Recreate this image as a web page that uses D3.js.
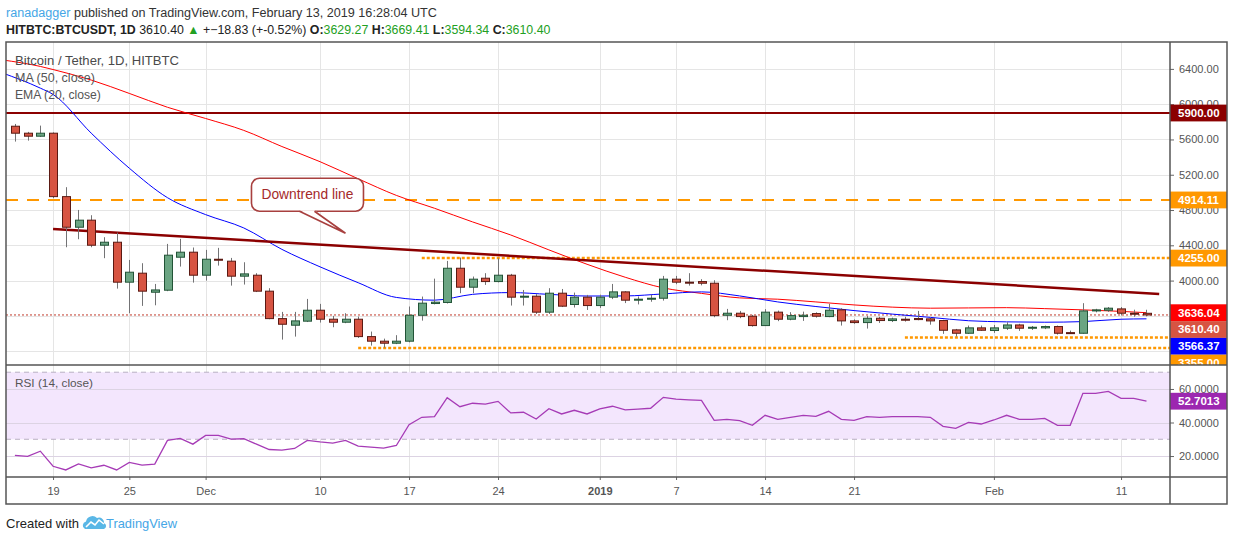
<!DOCTYPE html>
<html>
<head>
<meta charset="utf-8">
<script src="https://cdn.jsdelivr.net/npm/d3@7"></script>
<style>
body { margin: 0; background: #fff; }
text { font-family: "Liberation Sans", Arial, sans-serif; }
</style>
</head>
<body>
<svg id="chart" width="1234" height="541"></svg>
<script>
// daily candles, 2018-11-16 .. 2019-02-13
let firstDay = '2018-11-16';
let lastDay = '2019-02-13';
let opens = [5750,5671,5637,5671,4952,4605,4685,4401,4435,3982,4084,3868,3891,4265,4322,
  4061,4242,4220,4050,4061,3880,3569,3494,3540,3664,3562,3528,3562,3365,3313,3290,3313,3607,3740,3752,4140,3925,4027,3989,4061,3812,3823,3642,3857,3729,3812,
  3717,3812,3872,3778,3789,3800,4016,3982,3989,3970,3607,3630,3596,3490,3642,3562,3592,3626,3592,3668,3543,3524,3573,3547,3562,3570,3566,3547,3441,3403,3464,
  3434,3460,3497,3460,3464,3479,3410,3403,3656,3664,3679,3630,3629.27];
let highs = [5776,5686,5757,5680,5059,4801,4741,4492,4544,4234,4197,3962,4416,4473,4375,
  4348,4371,4257,4208,4084,3914,3645,3645,3792,3736,3600,3630,3592,3422,3342,3381,3706,3819,4022,4223,4261,4046,4084,4254,4076,3894,3846,3914,3905,3864,3838,
  3840,3962,3880,3820,3840,4053,4053,4084,4016,4004,3679,3656,3611,3676,3660,3642,3648,3640,3736,3687,3560,3600,3590,3580,3590,3656,3580,3555,3452,3490,3490,
  3497,3528,3510,3485,3490,3490,3433,3744,3680,3700,3700,3670,3669.41];
let lows = [5576,5587,5630,4934,4378,4469,4378,4254,3909,3630,3713,3720,3880,4159,3977,
  4000,4170,3943,3955,3870,3562,3331,3365,3530,3524,3471,3517,3350,3263,3240,3280,3300,3546,3730,3740,3857,3857,3951,3980,3717,3717,3622,3622,3700,3695,3667,
  3690,3790,3745,3730,3760,3773,3959,3943,3946,3585,3551,3574,3478,3485,3540,3550,3543,3580,3585,3490,3510,3456,3520,3530,3535,3550,3500,3396,3365,3395,3430,
  3407,3440,3430,3440,3450,3388,3395,3398,3640,3645,3605,3590,3594.34];
let closes = [5671,5637,5671,4952,4605,4685,4401,4435,3982,4095,3880,3894,4288,4322,4061,
  4242,4231,4050,4076,3880,3569,3505,3543,3664,3562,3528,3562,3365,3313,3290,3313,3607,3744,3755,4140,3925,4016,3989,4061,3812,3823,3642,3857,3710,3812,3717,
  3812,3872,3778,3789,3800,4016,3982,3978,3970,3603,3630,3592,3490,3642,3562,3603,3607,3596,3664,3543,3524,3573,3547,3566,3555,3558,3543,3437,3403,3464,3437,
  3464,3497,3460,3471,3479,3403,3403,3656,3668,3687,3630,3629.23,3610.40];

// RSI(14) per candle
let rsi14 = [20.4,19.8,22.9,13.9,11.7,15.3,12.9,14.5,11.7,16.2,14.6,15.2,29.3,30.5,27.1,
  32.3,32.3,30.1,30.3,27.1,23.9,23.5,24.5,29.3,28.4,27.7,29.3,25.9,25.3,24.7,26.3,38.7,43.1,43.5,54.8,49.4,51.5,51.0,52.6,45.7,46.1,42.1,48.2,45.1,47.3,45.1,
  48.1,49.7,47.5,48.0,48.5,55.0,53.9,53.5,53.2,41.3,41.9,41.1,38.3,44.3,41.9,43.1,44.3,43.7,46.7,41.9,41.3,43.5,43.1,43.5,43.5,43.5,43.1,37.7,36.5,40.1,39.1,
  41.5,44.3,41.9,41.9,42.5,38.3,38.3,57.4,57.4,58.6,54.4,54.4,52.7013];

// moving averages
let lineDates = ['2018-11-15','2018-11-18','2018-11-19','2018-11-22','2018-11-25','2018-11-28','2018-12-01','2018-12-04',
  '2018-12-07','2018-12-10','2018-12-13','2018-12-16','2018-12-19','2018-12-22','2018-12-25','2018-12-28','2018-12-31',
  '2019-01-03','2019-01-06','2019-01-09','2019-01-12','2019-01-15','2019-01-18','2019-01-21','2019-01-24','2019-01-27',
  '2019-01-30','2019-02-02','2019-02-05','2019-02-08','2019-02-11','2019-02-13'];
let ma50 = [6502,6428,6393,6274,6122,5965,5838,5703,5520,5348,5154,4966,4820,4665,4517,4348,4185,
  4038,3917,3855,3804,3789,3758,3724,3699,3687,3690,3693,3682,3668,3651,3636.04];
let ema20 = [6355,6182,6111,5672,5274,4940,4748,4597,4354,4156,3976,3809,3778,3844,3864,3844,3825,
  3826,3849,3872,3826,3758,3706,3660,3620,3583,3545,3532,3528,3535,3562,3566.37];

// drawings
let levels = [5900, 4914.11, 4255, 3355, 3236];
let levelStarts = [null, null, '2018-12-18', '2019-01-25', '2018-12-13'];
let trendDates = ['2018-11-19', '2019-02-14'];
let trendPrices = [4586, 3849];

let priceTicks = [3200, 3600, 4000, 4400, 4800, 5200, 5600, 6000, 6400];
let rsiTicks = [20, 40, 60];
let dateTicks = ['2018-11-19','2018-11-25','2018-12-01','2018-12-10','2018-12-17','2018-12-24',
  '2019-01-01','2019-01-07','2019-01-14','2019-01-21','2019-02-01','2019-02-11'];
let dateTickLabels = ['19','25','Dec','10','17','24','2019','7','14','21','Feb','11'];

// ---------- layout
let svg = d3.select('#chart');
let left = 6, right = 1170, outerRight = 1227;
let paneTop = 42, mainBottom = 365, rsiBottom = 477, frameBottom = 504;

let up = '#6ba583', upBorder = '#225437', down = '#d75442', downBorder = '#5b1a13', wick = '#737375';
let orange = '#ff9800', darkRed = '#8b0000';

let parse = d3.utcParse('%Y-%m-%d');
let DAY = 864e5;
let dates = d3.utcDay.range(parse(firstDay), d3.utcDay.offset(parse(lastDay), 1));

let x = d3.scaleUtc()
    .domain([new Date(+dates[0] - 0.7 * DAY), new Date(+dates[dates.length - 1] + 1.85 * DAY)])
    .range([left, right]);
let y = d3.scaleLinear().domain([3043, 6705]).range([mainBottom, paneTop]);
let yr = d3.scaleLinear().domain([7.5, 74.3]).range([rsiBottom, paneTop + 323]);

let candles = dates.map((d, i) => ({date: d, o: opens[i], h: highs[i], l: lows[i], c: closes[i]}));
let bw = (x(dates[1]) - x(dates[0])) * 0.62;

// shrink/grow a text's font so it spans the wanted width (no glyph squeezing)
function fitText(sel, width, size) {
  let n = sel.node().getComputedTextLength();
  if (n > 0) sel.style('font-size', (size * width / n).toFixed(2) + 'px');
  return sel;
}

let defs = svg.append('defs');
defs.append('clipPath').attr('id', 'clipMain').append('rect')
    .attr('x', left).attr('y', paneTop).attr('width', right - left).attr('height', mainBottom - paneTop);
defs.append('clipPath').attr('id', 'clipRsi').append('rect')
    .attr('x', left).attr('y', mainBottom).attr('width', right - left).attr('height', rsiBottom - mainBottom);
defs.append('clipPath').attr('id', 'clipLabels').append('rect')
    .attr('x', right).attr('y', paneTop).attr('width', outerRight - right).attr('height', mainBottom - paneTop);

// ---------- grid
let grid = svg.append('g').attr('stroke', '#e5e5e5').attr('stroke-width', 1);
grid.selectAll('.vg').data(dateTicks).enter().append('line')
    .attr('x1', d => Math.round(x(parse(d))) + 0.5).attr('x2', d => Math.round(x(parse(d))) + 0.5)
    .attr('y1', paneTop).attr('y2', rsiBottom);
grid.selectAll('.hg').data(priceTicks).enter().append('line')
    .attr('x1', left).attr('x2', right)
    .attr('y1', d => Math.round(y(d)) + 0.5).attr('y2', d => Math.round(y(d)) + 0.5);

// ---------- RSI pane
let rsiG = svg.append('g').attr('clip-path', 'url(#clipRsi)');
rsiG.append('rect').attr('x', left).attr('width', right - left)
    .attr('y', yr(70)).attr('height', yr(30) - yr(70)).attr('fill', '#f3e6fd');
rsiG.selectAll('.rg').data(rsiTicks).enter().append('line')
    .attr('x1', left).attr('x2', right)
    .attr('y1', d => Math.round(yr(d)) + 0.5).attr('y2', d => Math.round(yr(d)) + 0.5)
    .attr('stroke', '#dcd3e3');
rsiG.selectAll('.band').data([70, 30]).enter().append('line')
    .attr('x1', left).attr('x2', right)
    .attr('y1', d => yr(d)).attr('y2', d => yr(d))
    .attr('stroke', '#b9b0c2').attr('stroke-dasharray', '5,4');
rsiG.append('path')
    .datum(rsi14.map((v, i) => ({date: dates[i], v: v})))
    .attr('fill', 'none').attr('stroke', '#a63bb6').attr('stroke-width', 1.3)
    .attr('d', d3.line().x(d => x(d.date)).y(d => yr(d.v)));

// ---------- main pane
let main = svg.append('g').attr('clip-path', 'url(#clipMain)');

// horizontal levels
let levelStyle = [
  {color: darkRed, width: 2, dash: null},
  {color: orange, width: 2, dash: '12,9'},
  {color: orange, width: 2.5, dash: '3,2'},
  {color: orange, width: 2.5, dash: '3,2'},
  {color: orange, width: 2.5, dash: '3,2'}
];
levels.forEach((v, i) => {
  main.append('line')
      .attr('x1', levelStarts[i] ? x(parse(levelStarts[i])) : left).attr('x2', right)
      .attr('y1', y(v)).attr('y2', y(v))
      .attr('stroke', levelStyle[i].color).attr('stroke-width', levelStyle[i].width)
      .attr('stroke-dasharray', levelStyle[i].dash);
});

// last price line
main.append('line').attr('x1', left).attr('x2', right)
    .attr('y1', y(closes[closes.length - 1])).attr('y2', y(closes[closes.length - 1]))
    .attr('stroke', '#c0392b').attr('stroke-width', 1).attr('stroke-dasharray', '2,2');

// moving averages
let maLine = d3.line().x(d => x(d.date)).y(d => y(d.v)).curve(d3.curveMonotoneX);
main.append('path').datum(lineDates.map((d, i) => ({date: parse(d), v: ma50[i]})))
    .attr('fill', 'none').attr('stroke', '#ff0000').attr('stroke-width', 1).attr('d', maLine);
main.append('path').datum(lineDates.map((d, i) => ({date: parse(d), v: ema20[i]})))
    .attr('fill', 'none').attr('stroke', '#0000ff').attr('stroke-width', 1).attr('d', maLine);

// downtrend line
main.append('line')
    .attr('x1', x(parse(trendDates[0]))).attr('y1', y(trendPrices[0]))
    .attr('x2', x(parse(trendDates[1]))).attr('y2', y(trendPrices[1]))
    .attr('stroke', darkRed).attr('stroke-width', 2.5);

// candles
let cg = main.selectAll('.candle').data(candles).enter().append('g');
cg.append('line')
    .attr('x1', d => Math.round(x(d.date)) + 0.5).attr('x2', d => Math.round(x(d.date)) + 0.5)
    .attr('y1', d => y(d.h)).attr('y2', d => y(d.l))
    .attr('stroke', wick).attr('stroke-width', 1);
cg.append('rect')
    .attr('x', d => Math.round(x(d.date) - bw / 2) + 0.5)
    .attr('y', d => y(Math.max(d.o, d.c)))
    .attr('width', Math.round(bw))
    .attr('height', d => Math.max(1, Math.abs(y(d.o) - y(d.c))))
    .attr('fill', d => d.c >= d.o ? up : down)
    .attr('stroke', d => d.c >= d.o ? upBorder : downBorder)
    .attr('stroke-width', 1);

// callout "Downtrend line"
let tip = [x(parse('2018-12-12')), y(4537)];
let bx = tip[0] - 94, by = tip[1] - 55, bwid = 112, bh = 33;
let callout = svg.append('g');
callout.append('rect').attr('x', bx).attr('y', by).attr('width', bwid).attr('height', bh)
    .attr('rx', 8).attr('fill', '#fff').attr('stroke', '#a8403f').attr('stroke-width', 1.6);
callout.append('path')
    .attr('d', `M${bx + 48},${by + bh - 1} L${tip[0]},${tip[1]} L${bx + 63},${by + bh - 1} Z`)
    .attr('fill', '#fff').attr('stroke', 'none');
callout.append('path')
    .attr('d', `M${bx + 48},${by + bh} L${tip[0]},${tip[1]} L${bx + 63},${by + bh}`)
    .attr('fill', 'none').attr('stroke', '#a8403f').attr('stroke-width', 1.6);
fitText(callout.append('text').attr('x', bx + bwid / 2).attr('y', by + 21)
    .attr('text-anchor', 'middle').attr('fill', '#a52a2a').style('font-size', '14px')
    .text('Downtrend line'), 92, 14);

// ---------- price labels on the axis, stacked like TradingView does
let last = closes.length - 1;
let tags = [
  {v: levels[0], fill: darkRed},
  {v: levels[1], fill: orange},
  {v: levels[2], fill: orange},
  {v: ma50[ma50.length - 1], fill: '#ff0000'},
  {v: closes[last], fill: down},
  {v: ema20[ema20.length - 1], fill: '#0000ff'},
  {v: levels[3], fill: orange},
  {v: levels[4], fill: orange}
].sort((a, b) => y(a.v) - y(b.v));
let tagH = 16.8, prevY = -1e9;
tags.forEach(t => { t.y = Math.max(y(t.v), prevY + tagH); prevY = t.y; });
// tags pushed below the price pane are not drawn
tags = tags.filter(t => t.y - tagH / 2 < mainBottom);

// tick labels that sit mostly under a tag are not shown
let shownTicks = priceTicks.filter(v => !tags.some(t => Math.abs(t.y - y(v)) < tagH * 0.5));

// ---------- axes
let priceAxis = svg.append('g').attr('transform', `translate(${right},0)`)
    .call(d3.axisRight(y).tickValues(shownTicks).tickFormat(d3.format('.2f')).tickSize(4).tickPadding(5));
let rsiAxis = svg.append('g').attr('transform', `translate(${right},0)`)
    .call(d3.axisRight(yr).tickValues(rsiTicks).tickFormat(d3.format('.4f')).tickSize(4).tickPadding(5));
let timeAxis = svg.append('g').attr('transform', `translate(0,${rsiBottom})`)
    .call(d3.axisBottom(x).tickValues(dateTicks.map(parse)).tickFormat((d, i) => dateTickLabels[i]).tickSize(3).tickPadding(7));
[priceAxis, rsiAxis, timeAxis].forEach(a => {
  a.select('.domain').remove();
  a.selectAll('line').attr('stroke', '#666');
  a.selectAll('text').attr('fill', '#555').style('font-size', '11px').style('font-family', '"Liberation Sans", Arial, sans-serif');
});
timeAxis.selectAll('text').filter((d, i) => dateTickLabels[i] === '2019').style('font-weight', 'bold');

let tagG = svg.append('g').attr('clip-path', 'url(#clipLabels)');
let tg = tagG.selectAll('.tag').data(tags).enter().append('g');
tg.append('rect').attr('x', right).attr('y', d => d.y - tagH / 2)
    .attr('width', outerRight - right).attr('height', tagH).attr('fill', d => d.fill);
tg.append('text').attr('x', right + 8).attr('y', d => d.y + 4)
    .attr('fill', '#fff').style('font-size', '11.5px').style('font-weight', 'bold')
    .text(d => d3.format('.2f')(d.v));

// RSI value tag
let rsiLast = rsi14[rsi14.length - 1];
svg.append('rect').attr('x', right).attr('y', yr(rsiLast) - tagH / 2)
    .attr('width', outerRight - right).attr('height', tagH).attr('fill', '#9c27b0');
svg.append('text').attr('x', right + 8).attr('y', yr(rsiLast) + 4)
    .attr('fill', '#fff').style('font-size', '11.5px').style('font-weight', 'bold')
    .text(d3.format('.4f')(rsiLast));

// ---------- frame
let frame = svg.append('g').attr('fill', 'none').attr('stroke', '#555').attr('stroke-width', 1.5);
frame.append('rect').attr('x', left).attr('y', paneTop).attr('width', outerRight - left).attr('height', frameBottom - paneTop);
frame.append('line').attr('x1', right).attr('x2', right).attr('y1', paneTop).attr('y2', frameBottom);
frame.append('line').attr('x1', left).attr('x2', outerRight).attr('y1', mainBottom).attr('y2', mainBottom);
frame.append('line').attr('x1', left).attr('x2', outerRight).attr('y1', rsiBottom).attr('y2', rsiBottom);

// ---------- legends
let legend = svg.append('g').attr('fill', '#555');
fitText(legend.append('text').attr('x', 15).attr('y', 65).attr('fill', '#4a4a4a').style('font-size', '13px')
    .text('Bitcoin / Tether, 1D, HITBTC'), 164, 13);
fitText(legend.append('text').attr('x', 15).attr('y', 82).style('font-size', '13px').text('MA (50, close)'), 80, 13);
fitText(legend.append('text').attr('x', 15).attr('y', 99).style('font-size', '13px').text('EMA (20, close)'), 86, 13);
fitText(legend.append('text').attr('x', 15).attr('y', 387).style('font-size', '13px').text('RSI (14, close)'), 78, 13);

// ---------- header
let green = '#22a022';
let h1 = svg.append('text').attr('x', 6).attr('y', 17).style('font-size', '13px');
h1.append('tspan').attr('fill', '#45a6e6').text('ranadagger');
h1.append('tspan').attr('fill', '#333').text(' published on TradingView.com, February 13, 2019 16:28:04 UTC');
fitText(h1, 431, 13);

let change = closes[last] - closes[last - 1];
let pct = change / closes[last - 1] * 100;
let h2 = svg.append('text').attr('x', 6).attr('y', 34).style('font-size', '13px').attr('fill', '#222');
h2.append('tspan').style('font-weight', 'bold').text('HITBTC:BTCUSDT, 1D');
h2.append('tspan').text('  ' + d3.format('.2f')(closes[last]) + ' ');
h2.append('tspan').attr('fill', green).text('\u25B2');
h2.append('tspan').text(' +\u2212' + d3.format('.2f')(Math.abs(change)) + ' (+-' + d3.format('.2f')(Math.abs(pct)) + '%) ');
[['O:', opens[last]], ['H:', highs[last]], ['L:', lows[last]], ['C:', closes[last]]].forEach(p => {
  h2.append('tspan').style('font-weight', 'bold').text(' ' + p[0]);
  h2.append('tspan').attr('fill', green).text(d3.format('.2f')(p[1]));
});
fitText(h2, 545, 13);

// ---------- footer
fitText(svg.append('text').attr('x', 6).attr('y', 528).attr('fill', '#222').style('font-size', '13px')
    .text('Created with'), 73, 13);
let logo = svg.append('g').attr('transform', 'translate(83,514)');
logo.append('path')
    .attr('d', 'M2,15 a4,4 0 0 1 1,-7.5 a6.5,6.5 0 0 1 11,-3.5 a5,5 0 0 1 7,5 a3.2,3.2 0 0 1 0,6 Z')
    .attr('fill', '#5ab7e6');
logo.append('path').attr('d', 'M3,13 l5,-5 l4,3 l4,-5 l5,4')
    .attr('fill', 'none').attr('stroke', '#fff').attr('stroke-width', 1.6);
fitText(svg.append('text').attr('x', 106).attr('y', 528).attr('fill', '#45a6e6').style('font-size', '13px')
    .text('TradingView'), 71, 13);
</script>
</body>
</html>
